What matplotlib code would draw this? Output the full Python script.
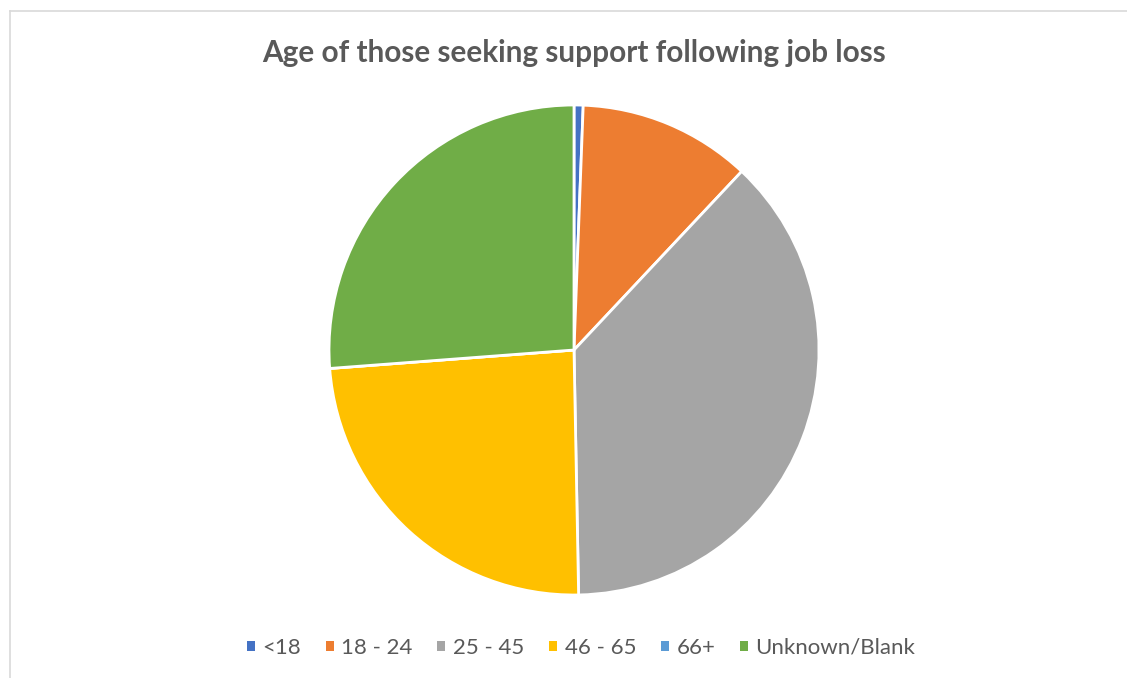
import matplotlib
matplotlib.use("Agg")
import matplotlib.pyplot as plt
from matplotlib.patches import Patch
from matplotlib.lines import Line2D

categories = ["<18", "18 - 24", "25 - 45", "46 - 65", "66+", "Unknown/Blank"]
values = [0.6, 11.4, 37.7, 24.1, 0.0, 26.2]
colors = ["#4472C4", "#ED7D31", "#A5A5A5", "#FFC000", "#5B9BD5", "#70AD47"]
title = "Age of those seeking support following job loss"

W, H = 1127, 678
fig = plt.figure(figsize=(W / 100, H / 100), dpi=100)

# chart border
fig.add_artist(Line2D([10 / W, 10 / W], [0, 1 - 11 / H], transform=fig.transFigure,
                      color="#D9D9D9", lw=1.2))
fig.add_artist(Line2D([10 / W, 1], [1 - 11 / H, 1 - 11 / H], transform=fig.transFigure,
                      color="#D9D9D9", lw=1.2))

cx, cy, r = 574, 350, 245
ax = fig.add_axes([(cx - r) / W, (H - cy - r) / H, 2 * r / W, 2 * r / H])
wedges, _ = ax.pie(values, colors=colors, startangle=90, counterclock=False,
                   radius=1, wedgeprops=dict(edgecolor="white", linewidth=2.0))
ax.set_xlim(-1.0, 1.0)
ax.set_ylim(-1.0, 1.0)
ax.axis("off")

fig.text(574 / W, 1 - 53 / H, title, ha="center", va="center",
         fontsize=21.4, fontweight="bold", color="#595959", family="Lato")

handles = [Patch(facecolor=c, edgecolor="none") for c in colors]
fig.legend(handles, categories, loc="center", bbox_to_anchor=(581 / W, 1 - 648 / H),
           ncol=6, frameon=False, labelcolor="#595959",
           handlelength=0.36, handleheight=0.36, handletextpad=0.35,
           columnspacing=1.1, prop={"family": "Lato", "size": 16.0})

fig.savefig("out.png", dpi=100, facecolor="white")
